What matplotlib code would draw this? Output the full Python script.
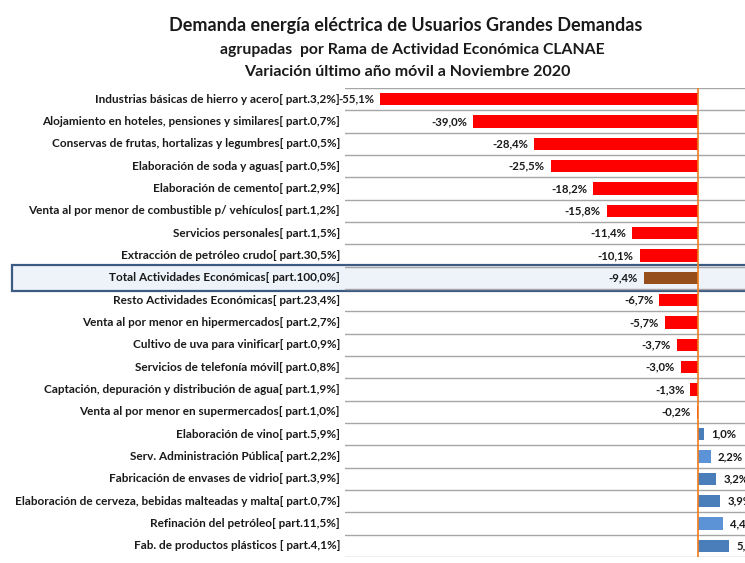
import matplotlib
matplotlib.use("Agg")
import matplotlib.pyplot as plt
from matplotlib.patches import Rectangle
from matplotlib.transforms import offset_copy

categories = [
    "Industrias básicas de hierro y acero[ part.3,2%]",
    "Alojamiento en hoteles, pensiones y similares[ part.0,7%]",
    "Conservas de frutas, hortalizas y legumbres[ part.0,5%]",
    "Elaboración de soda y aguas[ part.0,5%]",
    "Elaboración de cemento[ part.2,9%]",
    "Venta al por menor de combustible p/ vehículos[ part.1,2%]",
    "Servicios personales[ part.1,5%]",
    "Extracción de petróleo crudo[ part.30,5%]",
    "Total Actividades Económicas[ part.100,0%]",
    "Resto Actividades Económicas[ part.23,4%]",
    "Venta al por menor en hipermercados[ part.2,7%]",
    "Cultivo de uva para vinificar[ part.0,9%]",
    "Servicios de telefonía móvil[ part.0,8%]",
    "Captación, depuración y distribución de agua[ part.1,9%]",
    "Venta al por menor en supermercados[ part.1,0%]",
    "Elaboración de vino[ part.5,9%]",
    "Serv. Administración Pública[ part.2,2%]",
    "Fabricación de envases de vidrio[ part.3,9%]",
    "Elaboración de cerveza, bebidas malteadas y malta[ part.0,7%]",
    "Refinación del petróleo[ part.11,5%]",
    "Fab. de productos plásticos [ part.4,1%]",
]
values = [-55.1, -39.0, -28.4, -25.5, -18.2, -15.8, -11.4, -10.1, -9.4,
          -6.7, -5.7, -3.7, -3.0, -1.3, -0.2, 1.0, 2.2, 3.2, 3.9, 4.4, 5.4]
total_label = "Total Actividades Económicas[ part.100,0%]"

title = "Demanda energía eléctrica de Usuarios Grandes Demandas"
subtitle1 = "agrupadas  por Rama de Actividad Económica CLANAE"
subtitle2 = "Variación último año móvil a Noviembre 2020"

FONT = "Lato"
W, H = 745, 563
fig = plt.figure(figsize=(W / 100, H / 100), dpi=100)
fig.patch.set_facecolor("white")

ax_left, ax_right = 345 / W, 1.0
ax_top, ax_bot = 1 - 88 / H, 1 - 557 / H
ax = fig.add_axes([ax_left, ax_bot, ax_right - ax_left, ax_top - ax_bot])
ax.set_xlim(-61.2, 8.15)
n = len(categories)
ax.set_ylim(n - 0.5, -0.5)
ax.axis("off")

pos_colors = ["#4a7ebb", "#5b93d6"]
pos_pattern = [0, 1, 0, 0, 1, 0]
colors = []
pi = 0
for c, v in zip(categories, values):
    if c == total_label:
        colors.append("#964f1c")
    elif v < 0:
        colors.append("#ff0000")
    else:
        colors.append(pos_colors[pos_pattern[pi % 6]])
        pi += 1

y = list(range(n))
ax.barh(y, values, height=0.55, color=colors, zorder=3)

for k in range(n + 1):
    ax.axhline(k - 0.5, color="#a6a6a6", lw=1.0, zorder=1)

ax.axvline(0, color="#f07c1c", lw=1.2, zorder=4)

# highlight total row (behind the axes)
ti = categories.index(total_label)
y0 = ax.transData.transform((0, ti - 0.5))[1] / H
y1 = ax.transData.transform((0, ti + 0.5))[1] / H
box = Rectangle((12 / W, y1 - 0.003), 1.0, (y0 - y1) + 0.006, transform=fig.transFigure,
                facecolor="#eef3fa", edgecolor="#3c5a82", lw=1.6, zorder=-1)
fig.patches.append(box)

for i, (c, v) in enumerate(zip(categories, values)):
    lab = f"{v:.1f}%".replace(".", ",")
    if v < 0:
        tr_ = offset_copy(ax.transData, fig=fig, x=-6, y=0, units="dots")
        ax.text(v, i, lab, transform=tr_, ha="right", va="center",
                fontsize=8.2, fontweight="bold", family=FONT, color="#1a1a1a", zorder=5)
    else:
        tr_ = offset_copy(ax.transData, fig=fig, x=7, y=0, units="dots")
        ax.text(v, i, lab, transform=tr_, ha="left", va="center",
                fontsize=8.2, fontweight="bold", family=FONT, color="#1a1a1a", zorder=5)
    yy = ax.transData.transform((0, i))[1]
    fig.text(340 / W, yy / H, c, ha="right", va="center", fontsize=8.5,
             fontweight="bold", family=FONT, color="#1a1a1a")

fig.text(406 / W, 1 - 25 / H, title, ha="center", va="center", fontsize=13,
         fontweight="bold", family=FONT, color="#1a1a1a")
fig.text(412 / W, 1 - 50 / H, subtitle1, ha="center", va="center", fontsize=11.3,
         fontweight="bold", family=FONT, color="#1a1a1a")
fig.text(407 / W, 1 - 72 / H, subtitle2, ha="center", va="center", fontsize=11.5,
         fontweight="bold", family=FONT, color="#1a1a1a")

fig.savefig("out.png", dpi=100, facecolor="white")
